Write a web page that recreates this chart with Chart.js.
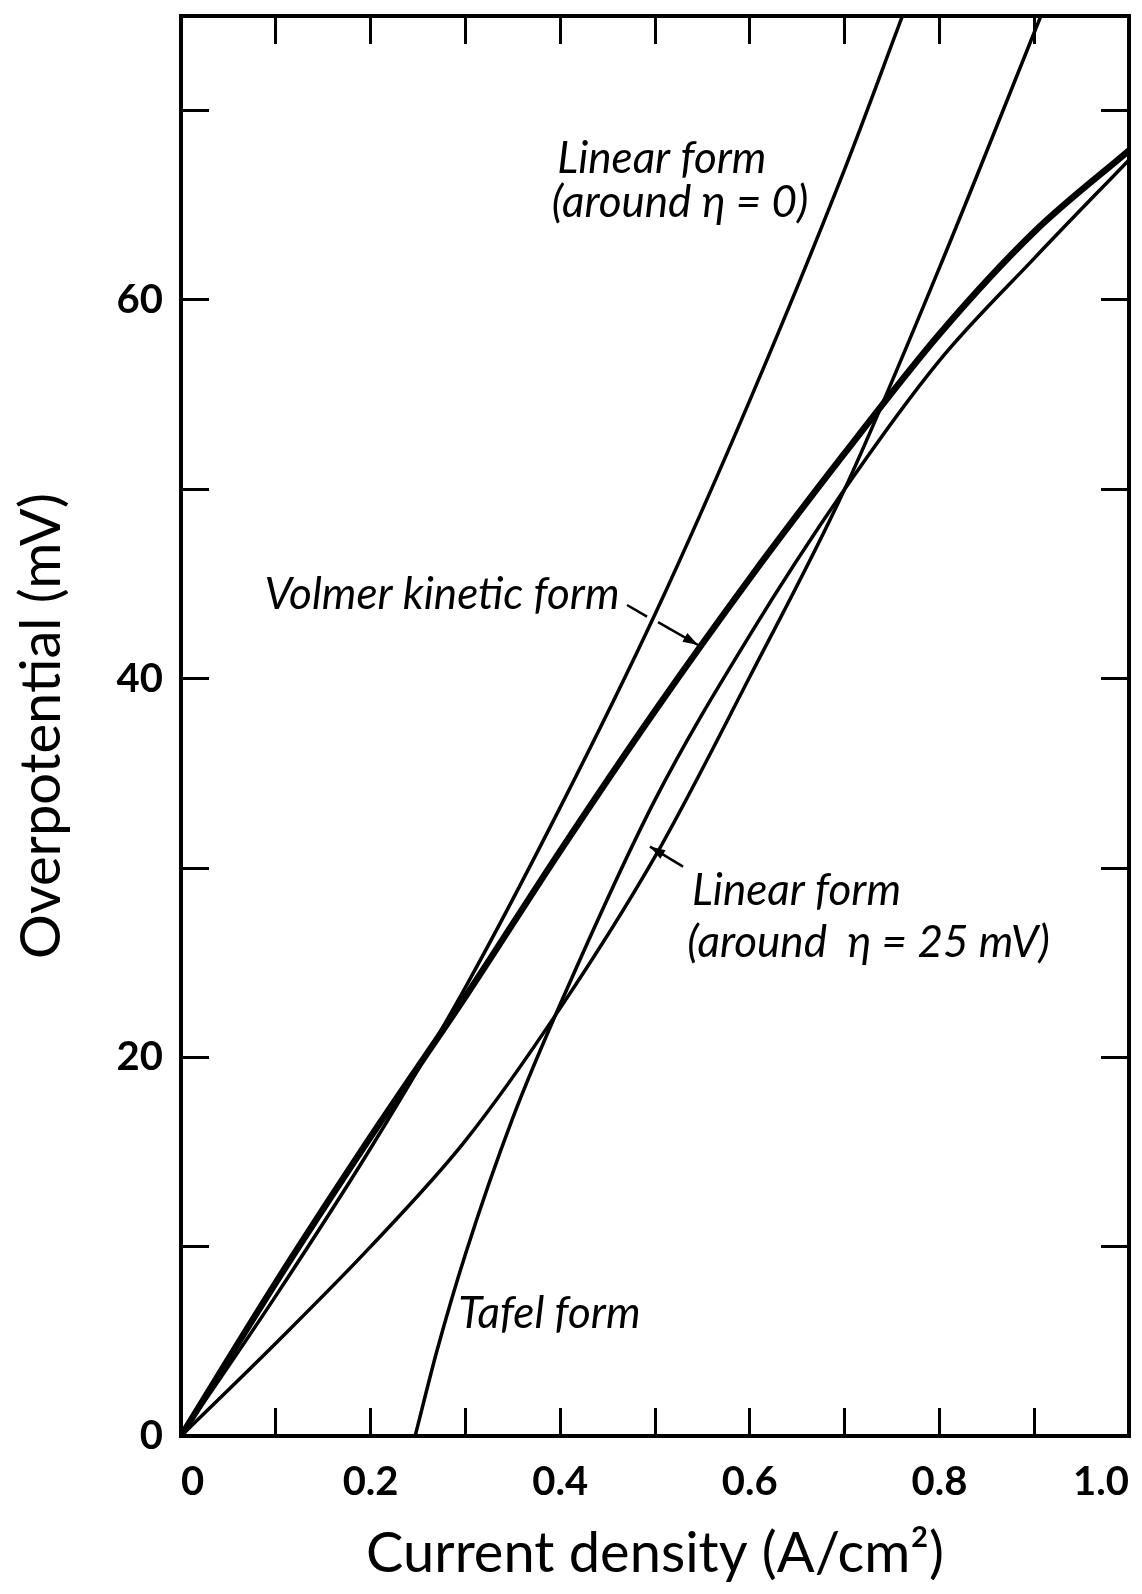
<!DOCTYPE html>
<html>
<head>
<meta charset="utf-8">
<title>Overpotential vs current density</title>
<script src="https://cdn.jsdelivr.net/npm/chart.js@4.4.1/dist/chart.umd.min.js"></script>
<style>
  html, body { margin: 0; padding: 0; background: #fff; }
  #wrap { width: 1142px; height: 1594px; position: relative; }
</style>
</head>
<body>
<div id="wrap"><canvas id="etaChart"></canvas></div>
<script>
// current density (A/cm2) and overpotential (mV) for each form
const volmerX = [0, 0.1, 0.2, 0.3, 0.4, 0.5, 0.6, 0.7, 0.8, 0.9, 1.0];
const volmerEta = [0, 8.1, 15.8, 23.2, 30.9, 38.3, 45.3, 51.9, 58.2, 63.6, 67.9];

const linear0X = [0, 0.1, 0.2, 0.3, 0.4, 0.5, 0.6, 0.7, 0.761];
const linear0Eta = [0, 7.4, 15.2, 23.7, 33.2, 43.4, 54.7, 66.9, 75];

const linear25X = [0, 0.1, 0.2, 0.3, 0.4, 0.5, 0.6, 0.7, 0.8, 0.907];
const linear25Eta = [0, 4.9, 10.0, 15.6, 22.6, 30.6, 40.1, 50.0, 61.7, 75];

const tafelX = [0.247, 0.27, 0.3, 0.35, 0.4, 0.5, 0.6, 0.7, 0.8, 0.9, 1.0];
const tafelEta = [0, 4.5, 9.6, 16.8, 22.8, 33.6, 42.3, 50.0, 56.8, 62.2, 67.4];

const xMax = 1.0;
const yMax = 75;

// labels inside the plot, anchored in data units (left end of the baseline)
const notes = [
  { text: 'Linear form', x: 0.397, y: 66.7 },
  { text: '(around η = 0)', x: 0.391, y: 64.4 },
  { text: 'Volmer kinetic form', x: 0.088, y: 43.7 },
  { text: 'Linear form', x: 0.539, y: 28.05 },
  { text: '(around  η = 25 mV)', x: 0.534, y: 25.3 },
  { text: 'Tafel form', x: 0.2925, y: 5.7 }
];

// pointer lines from labels to curves
const pointers = [
  { from: [0.4705, 43.89], to: [0.4916, 43.28], head: false },
  { from: [0.5032, 42.99], to: [0.5454, 41.78], head: true },
  { from: [0.5296, 30.07], to: [0.4947, 31.13], head: true }
];

const pts = (xs, ys) => xs.map((x, i) => ({ x: x, y: ys[i] }));

const curve = (data, width) => ({
  data: data,
  borderColor: '#000',
  borderWidth: width,
  pointRadius: 0,
  fill: false,
  cubicInterpolationMode: 'monotone'
});

const annotate = {
  id: 'annotate',
  afterDatasetsDraw(chart) {
    const { ctx, scales: { x, y } } = chart;
    ctx.save();
    ctx.fillStyle = '#000';
    ctx.font = 'italic 44px Lato, "DejaVu Sans", sans-serif';
    ctx.textAlign = 'left';
    ctx.textBaseline = 'alphabetic';
    notes.forEach(n => {
      ctx.fillText(n.text, x.getPixelForValue(n.x), y.getPixelForValue(n.y));
    });

    ctx.strokeStyle = '#000';
    ctx.lineWidth = 2.5;
    pointers.forEach(p => {
      const x1 = x.getPixelForValue(p.from[0]), y1 = y.getPixelForValue(p.from[1]);
      const x2 = x.getPixelForValue(p.to[0]), y2 = y.getPixelForValue(p.to[1]);
      ctx.beginPath();
      ctx.moveTo(x1, y1);
      ctx.lineTo(x2, y2);
      ctx.stroke();
      if (p.head) {
        const a = Math.atan2(y2 - y1, x2 - x1);
        const len = 16, half = 0.32;
        ctx.beginPath();
        ctx.moveTo(x2, y2);
        ctx.lineTo(x2 - len * Math.cos(a - half), y2 - len * Math.sin(a - half));
        ctx.lineTo(x2 - len * Math.cos(a + half), y2 - len * Math.sin(a + half));
        ctx.closePath();
        ctx.fill();
      }
    });
    ctx.restore();
  }
};

const tickFont = { family: 'Lato', size: 40, weight: 'bold' };
const titleFont = { family: 'Lato', size: 56 };
const frame = { display: true, width: 4, color: '#000' };
const innerTicks = { drawOnChartArea: false, drawTicks: true, tickLength: -28, tickWidth: 3, tickColor: '#000' };

new Chart(document.getElementById('etaChart'), {
  type: 'line',
  data: {
    datasets: [
      curve(pts(linear0X, linear0Eta), 3.5),
      curve(pts(linear25X, linear25Eta), 3.5),
      curve(pts(tafelX, tafelEta), 3.5),
      curve(pts(volmerX, volmerEta), 6.5)
    ]
  },
  options: {
    animation: false,
    responsive: true,
    maintainAspectRatio: false,
    devicePixelRatio: 1,
    layout: { padding: 0 },
    plugins: { legend: { display: false }, tooltip: { enabled: false } },
    scales: {
      x: {
        type: 'linear',
        position: 'bottom',
        min: 0,
        max: xMax,
        border: frame,
        grid: innerTicks,
        ticks: {
          stepSize: 0.1,
          autoSkip: false,
          maxRotation: 0,
          align: 'inner',
          padding: 50,
          color: '#000',
          font: tickFont,
          callback: v => {
            const k = Math.round(v * 10);
            if (k % 2) return '';
            return k === 0 ? '0' : (k / 10).toFixed(1);
          }
        },
        title: {
          display: true,
          text: 'Current density (A/cm²)',
          color: '#000',
          font: titleFont,
          padding: { top: 0, bottom: 6 }
        },
        afterFit: s => { s.height = 158; s.paddingLeft = 0; s.paddingRight = 0; }
      },
      x2: {
        type: 'linear',
        position: 'top',
        min: 0,
        max: xMax,
        border: frame,
        grid: innerTicks,
        ticks: { stepSize: 0.1, autoSkip: false, display: false },
        afterFit: s => { s.height = 16; s.paddingLeft = 0; s.paddingRight = 0; }
      },
      y: {
        type: 'linear',
        position: 'left',
        min: 0,
        max: yMax,
        border: frame,
        grid: innerTicks,
        ticks: {
          stepSize: 10,
          includeBounds: false,
          padding: 46,
          color: '#000',
          font: tickFont,
          callback: v => (v % 20 === 0 ? String(v) : '')
        },
        title: {
          display: true,
          text: 'Overpotential (mV)',
          color: '#000',
          font: titleFont,
          padding: { top: 8, bottom: 0 }
        },
        afterFit: s => { s.width = 181; s.paddingTop = 0; s.paddingBottom = 0; }
      },
      y2: {
        type: 'linear',
        position: 'right',
        min: 0,
        max: yMax,
        border: frame,
        grid: innerTicks,
        ticks: { stepSize: 10, includeBounds: false, display: false },
        afterFit: s => { s.width = 13; s.paddingTop = 0; s.paddingBottom = 0; }
      }
    }
  },
  plugins: [annotate]
});
</script>
</body>
</html>
